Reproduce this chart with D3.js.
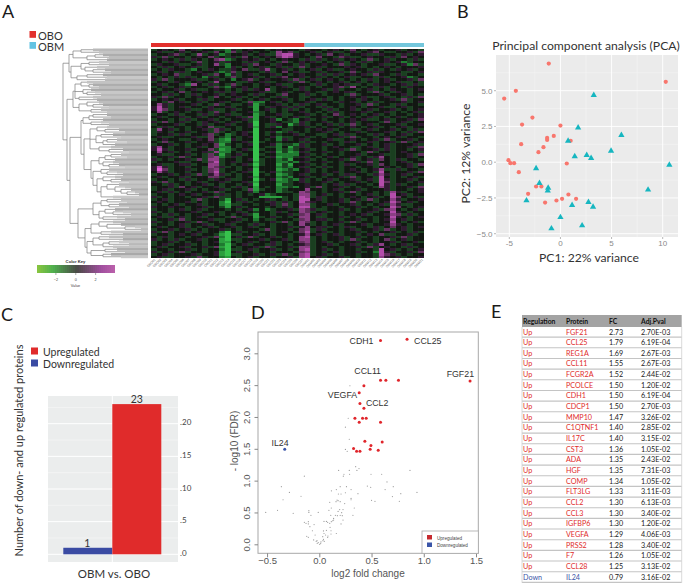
<!DOCTYPE html>
<html><head><meta charset="utf-8">
<script src="https://cdn.jsdelivr.net/npm/d3@7"></script>
<style>html,body{margin:0;padding:0;background:#fff}svg{display:block}</style>
</head><body><svg id="c" width="685" height="584"></svg>
<script>
// ---------- A: heatmap (digit = binned value, 0 green .. 4 neutral .. 8 magenta)
const groupNames = ["OBO","OBM"];
const groupSizes = [27,21];
const heatRows = [
"345436 453443 325345 443454 443544 345436 434534 453443",
"453345 344536 426354 344375 634453 453345 345643 344536",
"344563 437345 234453 453378 854345 364534 453354 435345",
"536344 345463 435364 345468 754436 443653 345443 536454",
"345435 354346 723454 534345 443535 345345 436345 344353",
"443534 436345 354435 345436 345453 434534 353445 452344",
"354453 345347 324453 644354 435344 543635 434453 345263",
"435345 453344 425343 453453 536345 344454 534345 434445",
"343544 324354 335463 357345 343453 453345 443534 354534",
"453435 345443 236344 435346 453345 344536 345354 443345",
"345463 344536 425345 344534 345443 535345 453644 353443",
"434353 534253 436344 534356 445345 343453 344353 445234",
"536344 453345 342456 345445 363453 454343 435345 344536",
"344354 345437 444335 453344 536345 434534 534345 453343",
"453443 274353 436344 345453 344435 345453 343544 345353",
"345345 344436 325454 344345 345343 445637 434353 443544",
"434453 453345 434353 547344 435344 535344 345343 544345",
"345346 344543 535344 453345 344543 345453 443634 354344",
"443534 353445 345443 534436 443534 344436 344453 445343",
"536344 345436 434534 344353 443344 434345 453345 343536",
"345453 443534 445343 453445 343453 534344 354344 536344",
"443645 345344 534436 224534 344534 443545 343534 445345",
"475344 453436 343345 134453 435345 344344 536344 353443",
"585345 344354 453443 143545 353443 534345 434453 345344",
"586344 533453 345344 145343 534344 353445 345344 534345",
"473454 345436 343445 234343 445343 435344 453445 343453",
"344353 443535 453344 134453 344534 346345 434534 344345",
"453445 345344 344536 145343 453344 534534 345343 453445",
"344343 534453 434453 144524 324534 344345 453345 344536",
"536345 343545 345343 044543 325344 534345 344436 345344",
"344453 443534 453445 043354 135343 453536 345344 453445",
"435344 345463 344345 143524 344534 344345 434534 345344",
"374534 344536 534344 044443 344345 453443 345344 534353",
"354344 534436 343453 043523 534344 534344 534445 343536",
"344535 344563 423454 043434 453443 345353 443534 345344",
"453344 453364 324345 044523 344534 344536 344345 453443",
"345443 345463 215344 043425 345344 453345 434536 344534",
"436344 534453 224453 034434 443534 344353 445344 536345",
"344534 344546 134345 044523 325344 534344 534345 344453",
"574344 345346 224344 043324 135344 345443 345345 344536",
"585344 534463 123453 034423 234534 344536 344535 344345",
"474534 344537 224344 043513 125344 534344 436344 345443",
"453344 534363 134534 034422 224534 344344 534453 344536",
"344536 344367 235344 043512 235343 453445 343574 344534",
"534344 536377 344345 034423 144534 344536 345364 353443",
"344453 344368 345344 134422 325344 534344 536344 345344",
"453345 534477 343453 034413 144534 344353 445364 344536",
"585344 344376 534344 144423 245343 534344 344345 434534",
"596344 534367 344345 044412 324534 344345 434573 353443",
"475344 344368 343453 034523 344534 345344 534384 344536",
"344534 536357 534344 043412 345344 534353 443575 345344",
"453445 344466 344345 144423 244534 344536 344384 343453",
"344343 534435 453344 034512 325343 453445 345385 344534",
"536344 345344 534453 144422 345344 534344 534386 344345",
"443534 344534 344345 044413 344544 345353 443485 353443",
"344536 453445 343534 143422 324536 344534 344375 344536",
"345344 534344 534436 134423 444744 345344 534445 344345",
"453534 344536 344345 244423 347634 344536 344343 753445",
"344345 453443 534343 452344 437734 534344 345343 845344",
"534344 344536 334344 411113 438735 344345 434534 864353",
"345344 436344 314534 345343 438845 344534 536344 753445",
"454344 534344 204353 443535 348654 344536 344345 864534",
"343453 445344 213344 344536 347734 453445 343453 753344",
"544544 344534 314534 443435 348834 344344 534344 864345",
"344345 345344 434345 242344 537653 344534 344536 743453",
"534344 453445 344534 344353 447634 534344 345344 854344",
"343534 344534 343453 144344 536745 344345 453445 763534",
"453345 345344 436344 134534 347743 344534 344344 854345",
"344536 344453 344534 243344 436745 534344 534345 745344",
"534344 536344 345344 344536 347634 344536 344344 843453",
"344345 344534 453443 534344 347534 345344 453445 754344",
"453445 343453 445345 344344 535745 534353 443534 645345",
"344534 534344 534344 436344 346735 344345 344536 345344",
"536344 345344 204534 344345 436834 534344 534344 534353",
"344345 453443 103344 534344 345745 345344 345463 344534",
"435344 344536 204536 344534 347834 344534 534344 536344",
"534353 445344 103344 453445 347734 344536 344346 345344",
"344534 344345 114345 344534 436734 534344 534344 534453",
"345344 534344 203453 443534 345634 453445 343574 345344",
"453445 344536 104344 536344 537734 344344 536345 443534",
"344344 534344 203345 344534 347834 534344 344384 534345",
"534536 344345 104534 344344 436734 345344 534285 344536",
"345344 453445 103344 534536 347834 534344 344386 534344",
"453344 536344 214345 344344 537845 344534 344375 453445"
].map(r => r.replace(/ /g,""));
// nested dendrogram: [branch height, ...children]; a plain number is a leaf tip height
const dendro = [0,
  [6,
    [10,[18,30,36],[24,[32,40,46],44]],
    [8,[18,[26,36,46],[22,34,[30,42,48]]],[14,[24,40,44],[26,42]]]],
  [4,
    [10,
      [12,[18,24,[26,30,36]],[20,28,[24,32,38]],[16,30,34]],
      [16,[24,36,[30,40,46]],[28,38,44]]],
    [7,
      [18,
        [20,[26,[30,44,48],40],[28,38,46]],
        [21,
          [27,[34,44,[42,56,62]],[33,[38,50,58],[40,[44,54,64],52]],[36,48,[46,60,66]]],
          [28,[36,[42,[48,58,64],52],[40,50,[46,56,62]]],[30,[38,46,[44,54,60]],[34,[40,52,[48,58,66]],[38,[44,56,[52,62,[58,68,[64,72,76]]]],50]]]]]],
      [15,
        [30,[38,[44,58,64],[46,56,66]],[36,[42,52,[50,60,68]],[40,54,62]]],
        [22,[28,[36,50,[44,58,[62,72,78]]],[38,48,60]],[24,[30,[36,46,60],[40,[46,56,66],50]],[28,[42,54,62],[40,48,58]]]]]]]];
const keyTicks = [-2,0,2];
// ---------- B: PCA
const pcaOBO = [[-1.14,6.9],[10.3,5.62],[-4.36,4.99],[-5.5,4.45],[-2.74,3.12],[-3.75,2.63],[0,2.56],[-0.65,1.84],[-1.3,1.7],[-1.3,1.56],[1,1.5],[-3.84,1.26],[-1.66,1.05],[-2.15,0.7],[-5.08,0.14],[-4.89,-0.07],[-4.53,-0.07],[0.62,-0.09],[-4.07,-0.7],[-2.38,-1.7],[-1.86,-1.7],[-3.16,-2.21],[0.78,-2.26],[1.53,-2.56],[0.16,-2.56],[-0.39,-2.68],[-1.5,-2.82]];
const pcaOBM = [[3.26,4.69],[1.73,2.42],[5.96,1.89],[0.75,1.49],[4.95,0.79],[2.57,0.49],[1.4,0.4],[3,0.28],[10.65,-0.19],[-2.38,-0.44],[-2.05,-1.47],[-1.2,-1.8],[-1.24,-2],[8.57,-1.93],[-3.32,-2.68],[2.74,-2.8],[1.14,-3],[3.19,-3.12],[0,-3.85],[2.12,-4.43],[-0.88,-4.64]];
const pcaXTicks = [-5,0,5,10];
const pcaYTicks = [-5,-2.5,0,2.5,5];
// ---------- C: bars
const barNames = ["Downregulated","Upregulated"];
const barValues = [1,23];
const barTicks = [0,5,10,15,20];
// ---------- D: volcano
const volUp = [[0.586,3.2,"CDH1"],[0.84,3.22,"CCL25"],[1.443,2.565,"FGF21"],[0.586,2.576,"CCL11"],[0.637,2.576],[0.758,2.576],[0.427,2.49],[0.382,2.38,"VEGFA"],[0.389,2.21],[0.427,2.136,"CCL2"],[0.341,1.98],[0.414,1.98],[0.449,1.98],[0.382,1.916],[0.586,1.916],[0.436,1.618],[0.602,1.607],[0.494,1.55],[0.328,1.503],[0.487,1.492],[0.564,1.476],[0.357,1.46],[0.389,1.46]];
const volDown = [[-0.331,1.492,"IL24"]];
const volNS = [[0.293,2.49],[0.277,1.98],[0.25,1.84],[0.287,1.65],[0.25,1.49],[0.267,1.46],[0.348,1.22],[0.38,1.19],[0.185,1.16],[0.287,1.16],[0.36,1.16],[0.236,1.1],[0.29,1.1],[0.23,1.07],[0.495,1.1],[0.597,1.1],[0.868,1.16],[-0.143,1.07],[0.648,0.98],[0.46,0.915],[0.492,0.895],[0.708,0.905],[-0.363,0.905],[0.2,0.905],[0.26,0.905],[0.163,0.86],[0.304,0.86],[0.116,0.84],[0.63,0.86],[-0.286,0.815],[0.183,0.79],[0.208,0.79],[0.25,0.81],[0.37,0.795],[0.78,0.795],[0.935,0.815],[0.7,0.75],[-0.175,0.755],[0.304,0.72],[0.304,0.7],[-0.347,0.7],[0.17,0.695],[0.16,0.67],[0.2,0.67],[0.18,0.685],[0.1,0.66],[0.243,0.64],[0.5,0.69],[0.533,0.675],[0.766,0.675],[0.335,0.57],[0.115,0.57],[0.195,0.545],[0.227,0.545],[0.092,0.533],[-0.513,0.5],[-0.4,0.533],[-0.25,0.486],[-0.1,0.528],[-0.1,0.5],[-0.01,0.5],[0.18,0.517],[0.214,0.497],[0.11,0.455],[0.154,0.455],[0.173,0.45],[0.2,0.455],[0.22,0.45],[0.322,0.455],[-0.08,0.455],[0.137,0.407],[0.137,0.38],[0.227,0.38],[-0.143,0.345],[-0.127,0.33],[-0.105,0.355],[-0.105,0.32],[0.045,0.36],[0.068,0.36],[0.08,0.345],[0.115,0.355],[0.128,0.37],[0.1,0.33],[0.208,0.32],[-0.05,0.31],[-0.09,0.277],[0.103,0.267],[-0.066,0.213],[-0.04,0.146],[-0.12,0.125],[-0.105,0.11],[-0.054,0.068],[-0.022,0.057],[-0.03,0.047],[0.004,0],[-0.01,0.027],[0.016,0.037],[0.035,0.057],[0.04,0.078],[0.033,0.12],[0.04,0.21],[0.068,0.22],[0.045,0.17],[0.06,0.146],[0.083,0.13],[0.112,0.213],[0.163,0.17],[0.08,0.11],[0.112,0.162],[0.048,0.047],[0.013,0.015],[-0.02,0.015]];
const volXTicks = [-0.5,0,0.5,1,1.5];
const volYTicks = [0,0.5,1,1.5,2,2.5,3];
// ---------- E: table
const tableHead = ["Regulation","Protein","FC","Adj.Pval"];
const tableReg = ["Up","Up","Up","Up","Up","Up","Up","Up","Up","Up","Up","Up","Up","Up","Up","Up","Up","Up","Up","Up","Up","Up","Up","Down"];
const tableProt = ["FGF21","CCL25","REG1A","CCL11","FCGR2A","PCOLCE","CDH1","CDCP1","MMP10","C1QTNF1","IL17C","CST3","ADA","HGF","COMP","FLT3LG","CCL2","CCL3","IGFBP6","VEGFA","PRSS2","F7","CCL28","IL24"];
const tableFC = ["2.73","1.79","1.69","1.55","1.52","1.50","1.50","1.50","1.47","1.40","1.40","1.36","1.35","1.35","1.34","1.33","1.30","1.30","1.30","1.29","1.28","1.26","1.25","0.79"];
const tableP = ["2.70E-03","6.19E-04","2.67E-03","2.67E-03","2.44E-02","1.20E-02","6.19E-04","2.70E-03","3.26E-02","2.85E-02","3.15E-02","1.05E-02","2.43E-02","7.31E-03","1.05E-02","3.11E-03","6.13E-03","3.40E-02","1.20E-02","4.06E-03","3.40E-02","1.05E-02","3.13E-02","3.16E-02"];

const svg = d3.select("#c");
const HUM = "Lato,sans-serif", ARI = "'Liberation Sans',sans-serif";
const txt = (g,x,y,s,size,o={}) => {
  const t = g.append("text").attr("x",x).attr("y",y).text(s)
    .attr("font-size",size).attr("font-family",o.font||HUM).attr("fill",o.fill||"#222")
    .attr("text-anchor",o.anchor||"start");
  if(o.weight) t.attr("font-weight",o.weight);
  if(o.rot!==undefined) t.attr("transform",`rotate(${o.rot},${x},${y})`);
  return t;
};
// panel letters
[["A",2,18],["B",457,18],["C",1,321],["D",251,319],["E",491,318]].forEach(d=>txt(svg,d[1],d[2],d[0],18,{fill:"#1a1a1a"}));

// ===== A =====
const A = svg.append("g");
const nCols = heatRows[0].length, nRows = heatRows.length;
const hx = d3.scaleBand().domain(d3.range(nCols)).range([151,424]);
const hy = d3.scaleBand().domain(d3.range(nRows)).range([48.5,258]);
const hc = d3.scaleLinear().domain([0,2,3,4,5,6,8]).range(["#36c24c","#1f7a30","#1a3f20","#121712","#2f1a30","#64305f","#b44cab"]);
const cells = [];
heatRows.forEach((r,i)=>{ for(let j=0;j<r.length;j++) cells.push({i,j,v:+r[j]}); });
A.append("g").attr("shape-rendering","crispEdges").selectAll("rect").data(cells).join("rect")
  .attr("x",d=>hx(d.j)).attr("y",d=>hy(d.i)).attr("width",hx.bandwidth()+.3).attr("height",hy.bandwidth()+.3)
  .attr("fill",d=>hc(d.v));
A.append("g").selectAll("line").data(d3.range(1,nCols)).join("line")
  .attr("x1",d=>hx(d)).attr("x2",d=>hx(d)).attr("y1",48.5).attr("y2",258)
  .attr("stroke","#fff").attr("stroke-opacity",.09).attr("stroke-width",.5);
// annotation bar
const barX = d3.scaleLinear().domain([0,nCols]).range([151,424]);
const annColor = {OBO:"#e2302d",OBM:"#74c7dc"};
let off = 0;
groupNames.forEach((g,k)=>{
  A.append("rect").attr("x",barX(off)).attr("y",43).attr("width",barX(off+groupSizes[k])-barX(off)).attr("height",4).attr("fill",annColor[g]);
  off += groupSizes[k];
});
// legend
groupNames.forEach((g,k)=>{
  A.append("rect").attr("x",29.5).attr("y",31+k*11).attr("width",6.5).attr("height",6.8).attr("fill",k?"#63c3e3":"#e2302d");
  txt(A,38,39.5+k*11,g,11,{fill:"#333"});
});
// column labels
let names=[]; groupNames.forEach((g,k)=>d3.range(groupSizes[k]).forEach(i=>names.push(g+String(i+1).padStart(2,"0"))));
A.append("g").selectAll("text").data(names).join("text")
  .attr("transform",(d,i)=>`translate(${hx(i)+hx.bandwidth()/2+2},${260}) rotate(-45)`)
  .attr("text-anchor","end").attr("font-size",3.2).attr("font-family",ARI).attr("fill","#666").text(d=>d);
// dendrogram
const dx = d3.scaleLinear().domain([0,85]).range([63,148]);
const asNode = a => Array.isArray(a) ? {h:a[0],children:a.slice(1).map(asNode)} : {h:a};
const root = asNode(dendro);
let leafIdx = 0; const leaves=[];
(function place(n){
  if(!n.children){ n.row = leafIdx++; leaves.push(n); return n.row; }
  const rows = n.children.map(place);
  n.row = (d3.min(rows)+d3.max(rows))/2;
  return n.row;
})(root);
const dy = d3.scaleLinear().domain([0,leaves.length]).range([48.5,258]);
const greys = ["#b9b9b9","#c3c3c3","#adadad","#bdbdbd","#a9a9a9","#c8c8c8"];
const D0 = A.append("g");
D0.append("g").selectAll("rect").data(leaves).join("rect")
  .attr("x",d=>dx(d.h)).attr("y",d=>dy(d.row)).attr("width",d=>148-dx(d.h)).attr("height",dy(1)-dy(0)+.2)
  .attr("fill",d=>greys[d.row%greys.length]);
const segs=[];
(function walk(n){
  if(!n.children) return;
  const rs=n.children.map(c=>c.row);
  segs.push([n.h,d3.min(rs)+.5,n.h,d3.max(rs)+.5]);
  n.children.forEach(c=>{segs.push([n.h,c.row+.5,c.h,c.row+.5]);walk(c);});
})(root);
D0.append("g").selectAll("line").data(segs).join("line")
  .attr("x1",d=>dx(d[0])).attr("y1",d=>dy(d[1])).attr("x2",d=>dx(d[2])).attr("y2",d=>dy(d[3]))
  .attr("stroke","#7d7d7d").attr("stroke-width",.7);
// colour key
const keyX = d3.scaleLinear().domain([-3.9,3.9]).range([37,114.5]);
const keyC = d3.scaleLinear().domain([-3.9,-2.4,0,2.4,3.9]).range(["#86c440","#4fb04e","#4a4a46","#a04f9e","#bd62ac"]);
const keySteps = d3.range(-3.9,3.9,.2);
A.append("g").attr("shape-rendering","crispEdges").selectAll("rect").data(keySteps).join("rect")
  .attr("x",d=>keyX(d)).attr("y",265).attr("width",keyX(.3)-keyX(0)).attr("height",8).attr("fill",d=>keyC(d));
keyTicks.forEach(t=>{
  A.append("line").attr("x1",keyX(t)).attr("x2",keyX(t)).attr("y1",273).attr("y2",275).attr("stroke","#555").attr("stroke-width",.5);
  txt(A,keyX(t),280.5,d3.format("d")(t),3.8,{anchor:"middle",font:ARI,fill:"#444"});
});
txt(A,75.5,262.5,"Color Key",4.2,{anchor:"middle",font:ARI,weight:"bold",fill:"#333"});
txt(A,75.5,287,"Value",3.8,{anchor:"middle",font:ARI,fill:"#444"});

// ===== B =====
const B = svg.append("g");
const px = d3.scaleLinear().domain([-5,10]).range([509.3,662.7]);
const py = d3.scaleLinear().domain([-5,5]).range([233.7,90.7]);
B.append("rect").attr("x",496).attr("y",55).attr("width",182).attr("height",182).attr("fill","#ebebeb");
[-2.5,2.5,7.5].forEach(t=>B.append("line").attr("x1",px(t)).attr("x2",px(t)).attr("y1",55).attr("y2",237).attr("stroke","#f6f6f6").attr("stroke-width",.5));
[-3.75,-1.25,1.25,3.75,6.25].forEach(t=>B.append("line").attr("y1",py(t)).attr("y2",py(t)).attr("x1",496).attr("x2",678).attr("stroke","#f6f6f6").attr("stroke-width",.5));
pcaXTicks.forEach(t=>{
  B.append("line").attr("x1",px(t)).attr("x2",px(t)).attr("y1",55).attr("y2",237).attr("stroke","#fff").attr("stroke-width",.9);
  B.append("line").attr("x1",px(t)).attr("x2",px(t)).attr("y1",237).attr("y2",239).attr("stroke","#888").attr("stroke-width",.6);
  txt(B,px(t),246,String(t),8,{anchor:"middle",font:ARI,fill:"#8a8a8a"});
});
pcaYTicks.forEach(t=>{
  B.append("line").attr("y1",py(t)).attr("y2",py(t)).attr("x1",496).attr("x2",678).attr("stroke","#fff").attr("stroke-width",.9);
  B.append("line").attr("y1",py(t)).attr("y2",py(t)).attr("x1",494).attr("x2",496).attr("stroke","#888").attr("stroke-width",.6);
  txt(B,492.5,py(t)+3,d3.format(".1f")(t),8,{anchor:"end",font:ARI,fill:"#8a8a8a"});
});
B.append("g").selectAll("circle").data(pcaOBO).join("circle").attr("cx",d=>px(d[0])).attr("cy",d=>py(d[1])).attr("r",2.1).attr("fill","#f8766d");
const tri = d3.symbol().type(d3.symbolTriangle).size(17);
B.append("g").selectAll("path").data(pcaOBM).join("path").attr("d",tri).attr("transform",d=>`translate(${px(d[0])},${py(d[1])})`).attr("fill","#16b6c0");
txt(B,586,50,"Principal component analysis (PCA)",12.2,{anchor:"middle",fill:"#333"});
txt(B,589,262,"PC1: 22% variance",12.2,{anchor:"middle",fill:"#333"});
txt(B,470,153.5,"PC2: 12% variance",12.2,{anchor:"middle",fill:"#333",rot:-90});

// ===== C =====
const C = svg.append("g");
const cy = d3.scaleLinear().domain([0,20]).range([554.3,423.7]);
const cx = d3.scaleBand().domain(barNames).range([63.3,161.3]).padding(0);
C.append("rect").attr("x",48).attr("y",396).attr("width",130).attr("height",166).attr("fill","#ebeded");
[2.5,7.5,12.5,17.5,22.5].forEach(t=>C.append("line").attr("x1",48).attr("x2",178).attr("y1",cy(t)).attr("y2",cy(t)).attr("stroke","#f8f8f8").attr("stroke-width",.6));
barTicks.forEach(t=>{
  C.append("line").attr("x1",48).attr("x2",178).attr("y1",cy(t)).attr("y2",cy(t)).attr("stroke","#fff").attr("stroke-width",1);
  txt(C,180,cy(t)+1.5,".",8,{fill:"#444"});
  txt(C,182,cy(t)+1.5,String(t),8,{fill:"#444"});
});
C.append("line").attr("x1",cx.range()[0]+49).attr("x2",cx.range()[0]+49).attr("y1",396).attr("y2",562).attr("stroke","#fff").attr("stroke-width",1);
const barColors = {Downregulated:"#3a4ba3",Upregulated:"#e02b2b"};
C.append("g").selectAll("rect").data(barNames).join("rect")
  .attr("x",d=>cx(d)).attr("width",cx.bandwidth()).attr("y",(d,i)=>cy(barValues[i])).attr("height",(d,i)=>cy(0)-cy(barValues[i])).attr("fill",d=>barColors[d]);
barNames.forEach((d,i)=>txt(C,cx(d)+cx.bandwidth()/2+(i?0:-.5),cy(barValues[i])-1,String(barValues[i]),10.5,{anchor:"middle",fill:"#333"}));
[...barNames].reverse().forEach((d,i)=>{
  C.append("rect").attr("x",31).attr("y",347.5+i*12).attr("width",7).attr("height",7).attr("fill",barColors[d]);
  txt(C,43,356+i*12,d,10.5,{fill:"#333"});
});
txt(C,114,578,"OBM vs. OBO",11.5,{anchor:"middle",fill:"#333"});
txt(C,23,450.5,"Number of down- and up regulated  proteins",11,{anchor:"middle",fill:"#333",rot:-90});

// ===== D =====
const D = svg.append("g");
const vx = d3.scaleLinear().domain([0,1.5]).range([319.3,476]);
const vy = d3.scaleLinear().domain([0,3]).range([544.3,353.3]);
D.append("rect").attr("x",258).attr("y",332).attr("width",220.3).attr("height",221.3).attr("fill","#fff").attr("stroke","#a8a8a8").attr("stroke-width",1);
D.append("g").attr("transform","translate(0,553.3)").call(d3.axisBottom(vx).tickValues(volXTicks).tickFormat(d3.format(".1f")).tickSize(4))
  .call(g=>{g.select(".domain").remove();g.selectAll("line").attr("stroke","#888");g.selectAll("text").attr("font-family",ARI).attr("font-size",9.5).attr("fill","#555").attr("y",7).attr("dy","0.4em");});
D.append("g").attr("transform","translate(258,0)").call(d3.axisLeft(vy).tickValues(volYTicks).tickFormat(d3.format(".1f")).tickSize(3.5))
  .call(g=>{g.select(".domain").remove();g.selectAll("line").attr("stroke","#888");
    g.selectAll("text").attr("font-family",ARI).attr("font-size",9.5).attr("fill","#555").attr("text-anchor","middle")
     .attr("transform","rotate(-90)").attr("x",0).attr("y",-8).attr("dy",0);});
D.append("g").selectAll("circle").data(volNS).join("circle").attr("cx",d=>vx(d[0])).attr("cy",d=>vy(d[1])).attr("r",.6).attr("fill","#9a9a9a");
D.append("g").selectAll("circle").data(volUp).join("circle").attr("cx",d=>vx(d[0])).attr("cy",d=>vy(d[1])).attr("r",1.5).attr("fill","#e0252b");
D.append("g").selectAll("circle").data(volDown).join("circle").attr("cx",d=>vx(d[0])).attr("cy",d=>vy(d[1])).attr("r",1.5).attr("fill","#3a55a8");
const labelOffset = {CDH1:[-7,3.5,"end"],CCL25:[7,4.7,"start"],FGF21:[4,-4,"end"],CCL11:[0.5,-6,"end"],VEGFA:[-2,5.5,"end"],CCL2:[2,-2,"start"],IL24:[-4.7,-3,"middle"]};
[...volUp,...volDown].filter(d=>d[2]).forEach(d=>{
  const o=labelOffset[d[2]];
  txt(D,vx(d[0])+o[0],vy(d[1])+o[1],d[2],8.8,{anchor:o[2],font:ARI,fill:"#333"});
});
txt(D,368,577,"log2 fold change",10,{anchor:"middle",font:ARI,fill:"#555"});
txt(D,238,441,"- log10 (FDR)",10,{anchor:"middle",font:ARI,fill:"#555",rot:-90});
D.append("rect").attr("x",422).attr("y",531).attr("width",56.3).attr("height",22.3).attr("fill","#fff").attr("stroke","#a8a8a8").attr("stroke-width",.8);
[["Upregulated","#c62a2f"],["Downregulated","#3a55a8"]].forEach((d,i)=>{
  D.append("rect").attr("x",427).attr("y",535+i*7.5).attr("width",5).attr("height",4.5).attr("fill",d[1]);
  txt(D,437,539.5+i*7.5,d[0],4.6,{font:ARI,fill:"#444"});
});

// ===== E =====
const E = svg.append("g");
const colX = [523,566,609,641];
const ty = d3.scaleLinear().domain([0,23]).range([334.5,579.8]);
E.append("rect").attr("x",522).attr("y",315).attr("width",159.7).attr("height",12).attr("fill","#a3a3a3");
tableHead.forEach((h,i)=>txt(E,colX[i],323.8,h,6.8,{weight:"bold",fill:"#111"}));
E.append("g").selectAll("line").data(d3.range(24)).join("line")
  .attr("x1",522).attr("x2",681.7).attr("y1",d=>ty(d)+2.6).attr("y2",d=>ty(d)+2.6).attr("stroke","#c4c4c4").attr("stroke-width",1.1);
[522,681.7].forEach(x=>E.append("line").attr("x1",x).attr("x2",x).attr("y1",327).attr("y2",ty(23)+3).attr("stroke","#d0d0d0").attr("stroke-width",.8));
tableReg.forEach((r,i)=>{
  const col = r==="Up"?"#e02b2b":"#3a55a8";
  txt(E,colX[0],ty(i),r,7.2,{fill:col});
  txt(E,colX[1],ty(i),tableProt[i],7.2,{fill:col});
  txt(E,colX[2],ty(i),tableFC[i],7.2,{fill:"#222"});
  txt(E,colX[3],ty(i),tableP[i],7.2,{fill:"#222"});
});
</script></body></html>
